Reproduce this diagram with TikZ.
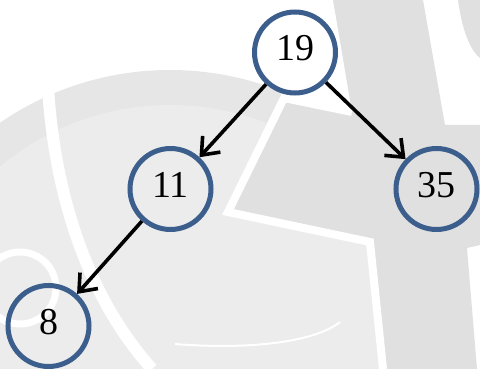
\documentclass[tikz,border=0pt]{standalone}
\usepackage{fontspec}
\setmainfont{Liberation Serif}
\usetikzlibrary{arrows.meta}
\definecolor{nodeblue}{RGB}{60,94,140}
\definecolor{wmlight}{RGB}{236,236,236}
\definecolor{wmring}{RGB}{230,230,230}
\definecolor{wmdark}{RGB}{224,224,224}
\begin{document}
\begin{tikzpicture}[x=1pt,y=-1pt,
  tnode/.style={circle,draw=nodeblue,line width=5pt,minimum size=81pt,inner sep=0pt,font=\fontsize{38}{42}\selectfont,text depth=9pt},
  edge/.style={draw=black,line width=3.6pt,-{Straight Barb[length=15pt,width=24pt]}},
  wmline/.style={draw=white,line width=8pt}]
\useasboundingbox (0,0) rectangle (480,369);
\begin{scope}
\clip (0,0) rectangle (480,369);
\fill[wmring] (170,370) circle[radius=300pt];
\fill[wmlight] (170,370) circle[radius=265pt];
\fill[wmdark] (333,0) -- (423,0) -- (445,125) -- (480,125) -- (480,245) -- (467,248) -- (477,369) -- (387,369) -- (372,240) -- (233,210) -- (287,98) -- (352,112) -- cycle;
\fill[wmdark] (458,0) .. controls (462,30) and (470,50) .. (480,58) -- (480,0) -- cycle;
\draw[wmline] (352,112) -- (284,98) -- (228,212) -- (370,242) -- (383,369);
\draw[white,line width=12pt] (48,88) .. controls (55,200) and (90,300) .. (152,369);
\draw[white,line width=7pt] (20,288) circle[radius=36pt];
\draw[white,line width=2pt] (175,344) .. controls (250,350) and (315,342) .. (340,322);
\end{scope}
\node[tnode] (n19) at (295,52.5) {19};
\node[tnode] (n11) at (170.5,189) {11};
\node[tnode] (n35) at (436.5,189) {35};
\node[tnode] (n8) at (48.5,326) {8};
\draw[edge] (n19) -- (n11);
\draw[edge] (n19) -- (n35);
\draw[edge] (n11) -- (n8);
\end{tikzpicture}
\end{document}
